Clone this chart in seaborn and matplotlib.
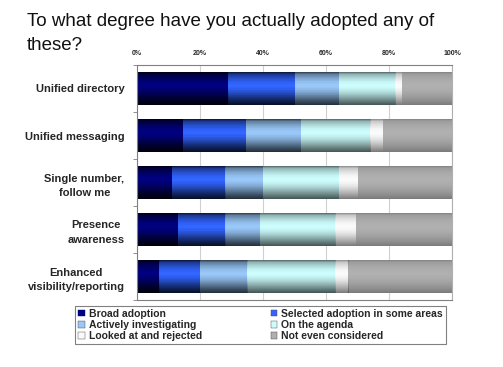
import matplotlib
matplotlib.use("Agg")
import matplotlib.pyplot as plt
import seaborn as sns
import pandas as pd
import numpy as np
from matplotlib.patches import Patch

categories = ["Unified directory", "Unified messaging", "Single number,\nfollow me",
              "Presence\nawareness", "Enhanced\nvisibility/reporting"]
series = ["Broad adoption", "Selected adoption in some areas", "Actively investigating",
          "On the agenda", "Looked at and rejected", "Not even considered"]
broad = [29, 14.5, 11, 13, 7]
selected = [21, 20, 17, 15, 13]
investigating = [14, 17.5, 12, 11, 15]
agenda = [18, 22, 24, 24, 28]
rejected = [2, 4, 6, 6.5, 4]
not_considered = [16, 22, 30, 30.5, 33]
xticks = [0, 20, 40, 60, 80, 100]
xticklabels = ["0%", "20%", "40%", "60%", "80%", "100%"]
title_lines = ["To what degree have you actually adopted any of", "these?"]

colors = ["#000080", "#3366ff", "#99c8f8", "#ccfcfc", "#fafafa", "#b0b0b0"]

sns.set_theme(style="white")
plt.rcParams['font.family'] = ['Liberation Sans', 'DejaVu Sans']

fig = plt.figure(figsize=(5.03, 3.67), dpi=100)
ax = fig.add_axes([137/503, 1 - 300/367, 315/503, 235/367])

vals = np.array([broad, selected, investigating, agenda, rejected, not_considered])
cum = np.cumsum(vals, axis=0)
for i in range(len(series) - 1, -1, -1):
    df = pd.DataFrame({"cat": categories, "val": cum[i]})
    sns.barplot(data=df, x="val", y="cat", orient="h", color=colors[i],
                saturation=1, width=0.7, ax=ax, edgecolor="none", linewidth=0)

ax.set_xlim(0, 100)
ax.set_ylim(4.5, -0.5)

# cylinder-like shading on each bar
prof = np.linspace(0, 1, 64)
alpha = np.clip(0.30 * (np.abs(prof - 0.4) / 0.6) ** 1.8, 0, 0.30)
alpha[:6] = np.maximum(alpha[:6], np.linspace(0.25, 0.05, 6))
grad = np.zeros((64, 1, 4))
grad[:, 0, 3] = alpha
for p in list(ax.patches):
    x0, y0 = p.get_x(), p.get_y()
    w, h = p.get_width(), p.get_height()
    im = ax.imshow(grad, extent=(x0, x0 + w, y0 + h, y0), aspect="auto",
                   interpolation="bilinear", zorder=p.get_zorder() + 0.01)
    im.set_clip_path(p)
ax.set_xlim(0, 100)
ax.set_ylim(4.5, -0.5)

ax.set_xticks(xticks)
ax.set_xticklabels(xticklabels, fontsize=5, fontweight="bold")
ax.xaxis.tick_top()
ax.tick_params(axis="x", length=0, pad=6)
ax.set_xlabel("")
ax.set_ylabel("")
ax.set_yticks(range(len(categories)))
ax.set_yticklabels(categories, fontsize=8, fontweight="bold", ha="right",
                   multialignment="center", linespacing=1.55)
ax.tick_params(axis="y", length=0, pad=9)
ax.set_yticks(np.arange(-0.5, 4.6, 1), minor=True)
ax.tick_params(axis="y", which="minor", length=3, width=0.6, color="#808080", left=True)
ax.grid(axis="x", color="#d0d0d0", linewidth=0.8)
ax.set_axisbelow(True)
for s in ax.spines.values():
    s.set_color("#808080")
    s.set_linewidth(0.8)
ax.spines["right"].set_color("#b0b0b0")

fig.text(27/503, 1 - 22/367, title_lines[0],
         fontsize=13.5, ha="left", va="center", color="#111111")
fig.text(27/503, 1 - 46/367, title_lines[1],
         fontsize=13.5, ha="left", va="center", color="#111111")

order = [0, 2, 4, 1, 3, 5]
handles = [Patch(facecolor=colors[i], edgecolor="#404040" if i != 0 else colors[i],
                 linewidth=0.3) for i in order]
labels = [series[i] for i in order]
leg = fig.legend(handles, labels, ncol=2, loc="upper left",
                 bbox_to_anchor=(70/503, 1 - 304/367, 381/503, 0.01),
                 mode="expand", prop={"size": 7.5, "weight": "bold"},
                 frameon=True, fancybox=False, edgecolor="#606060",
                 handlelength=0.6, handleheight=0.6, handletextpad=0.4,
                 labelspacing=0.12, borderpad=0.3, columnspacing=2.0)
leg.get_frame().set_linewidth(0.8)

fig.savefig("out.png", dpi=100)
